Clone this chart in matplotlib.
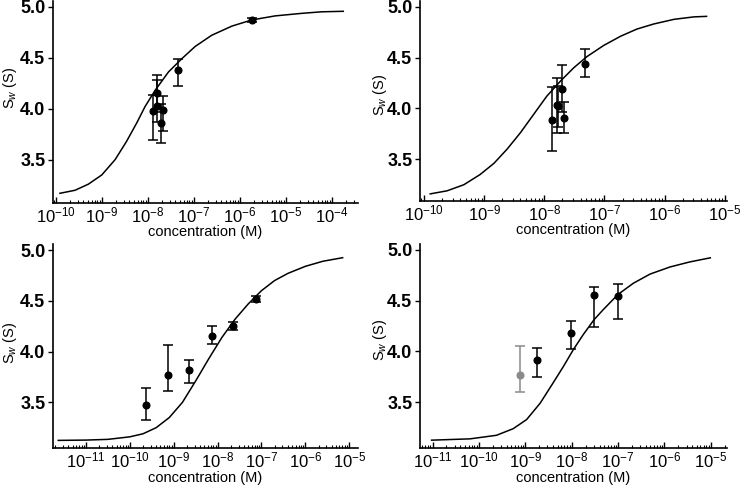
import numpy as np
import matplotlib
matplotlib.use("Agg")
import matplotlib.pyplot as plt
from matplotlib.ticker import FixedLocator, NullFormatter, LogFormatterSciNotation

plt.rcParams['font.family'] = ['Liberation Sans', 'DejaVu Sans']
plt.rcParams['mathtext.fontset'] = 'custom'
plt.rcParams['mathtext.rm'] = 'Liberation Sans'
plt.rcParams['mathtext.it'] = 'Liberation Sans:italic'
plt.rcParams['mathtext.bf'] = 'Liberation Sans:bold'

# ---------------- Panel 1 (top left) ----------------
conc1 = [1.29e-8, 1.62e-8, 1.62e-8, 1.90e-8, 2.14e-8, 4.65e-8, 1.82e-6]
sw1 = [3.98, 4.15, 4.03, 3.86, 3.99, 4.38, 4.87]
lo1 = [3.69, 3.97, 3.87, 3.66, 3.78, 4.22, 4.85]
hi1 = [4.13, 4.33, 4.28, 4.05, 4.12, 4.49, 4.89]
fit_logc1 = [-9.91, -9.58, -9.29, -9.0, -8.71, -8.46, -8.24, -8.06, -7.84, -7.55,
             -7.26, -6.97, -6.61, -6.17, -5.74, -5.23, -4.65, -4.22, -3.75]
fit_sw1 = [3.17, 3.20, 3.26, 3.35, 3.50, 3.68, 3.86, 4.02, 4.18, 4.36,
           4.49, 4.61, 4.72, 4.81, 4.87, 4.91, 4.935, 4.95, 4.955]

# ---------------- Panel 2 (top right) ----------------
conc2 = [1.35e-8, 1.63e-8, 1.66e-8, 1.93e-8, 2.15e-8, 4.8e-8]
sw2 = [3.89, 4.03, 4.02, 4.19, 3.91, 4.44]
lo2 = [3.58, 3.76, 3.82, 3.96, 3.76, 4.31]
hi2 = [4.21, 4.30, 4.22, 4.43, 4.06, 4.58]
fit_logc2 = [-9.90, -9.62, -9.34, -9.07, -8.84, -8.62, -8.40, -8.18, -7.96, -7.73,
             -7.51, -7.29, -7.01, -6.73, -6.46, -6.18, -5.84, -5.51, -5.30]
fit_sw2 = [3.16, 3.19, 3.25, 3.35, 3.46, 3.60, 3.76, 3.94, 4.12, 4.27,
           4.40, 4.51, 4.62, 4.71, 4.78, 4.83, 4.876, 4.90, 4.905]

# ---------------- Panel 3 (bottom left) ----------------
conc3 = [2.34e-10, 7.6e-10, 2.24e-9, 7.6e-9, 2.19e-8, 7.4e-8]
sw3 = [3.47, 3.77, 3.82, 4.15, 4.25, 4.52]
lo3 = [3.33, 3.61, 3.69, 4.07, 4.21, 4.49]
hi3 = [3.64, 4.06, 3.92, 4.25, 4.29, 4.55]
fit_logc3 = [-11.63, -11.0, -10.5, -10.0, -9.7, -9.4, -9.1, -8.8, -8.5, -8.2,
             -7.9, -7.6, -7.3, -7.0, -6.7, -6.4, -6.0, -5.6, -5.15]
fit_sw3 = [3.125, 3.128, 3.135, 3.16, 3.19, 3.25, 3.35, 3.50, 3.71, 3.93,
           4.14, 4.32, 4.47, 4.60, 4.70, 4.77, 4.84, 4.89, 4.925]

# ---------------- Panel 4 (bottom right) ----------------
conc4 = [7.6e-10, 1.8e-9, 9.8e-9, 3.0e-8, 1.0e-7]
sw4 = [3.77, 3.92, 4.18, 4.55, 4.54]
lo4 = [3.60, 3.75, 4.02, 4.24, 4.32]
hi4 = [4.05, 4.03, 4.30, 4.63, 4.66]
colors4 = ['#8a8a8a', 'black', 'black', 'black', 'black']
fit_logc4 = [-11.02, -10.19, -9.62, -9.26, -8.97, -8.68, -8.40, -8.18, -7.96, -7.75,
             -7.52, -7.32, -7.0, -6.67, -6.31, -5.88, -5.45, -5.01]
fit_sw4 = [3.127, 3.14, 3.175, 3.24, 3.33, 3.49, 3.69, 3.85, 4.02, 4.165,
           4.31, 4.41, 4.56, 4.67, 4.76, 4.83, 4.88, 4.92]

yticks = [3.5, 4.0, 4.5, 5.0]
xlabel = 'concentration (M)'
ylabel = r'S$_\mathit{w}$ (S)'

W, H = 740, 486
fig = plt.figure(figsize=(W / 100, H / 100), dpi=100)


def make_ax(left, right, top, bottom):
    return fig.add_axes([left / W, 1 - bottom / H, (right - left) / W, (bottom - top) / H])


panels = [
    dict(box=(53, 358, 1, 203), xlog=(-10.06, -3.43), ylim=(3.075, 5.056),
         conc=conc1, sw=sw1, lo=lo1, hi=hi1, colors=['black'] * len(conc1),
         flc=fit_logc1, fsw=fit_sw1, ylab=(-0.141, 0.57), xlab=-0.143),
    dict(box=(420, 727, 1, 201), xlog=(-10.07, -4.96), ylim=(3.09, 5.056),
         conc=conc2, sw=sw2, lo=lo2, hi=hi2, colors=['black'] * len(conc2),
         flc=fit_logc2, fsw=fit_sw2, ylab=(-0.13, 0.53), xlab=-0.145),
    dict(box=(53, 358, 244, 448), xlog=(-11.75, -4.8), ylim=(3.05, 5.06),
         conc=conc3, sw=sw3, lo=lo3, hi=hi3, colors=['black'] * len(conc3),
         flc=fit_logc3, fsw=fit_sw3, ylab=(-0.141, 0.515), xlab=-0.145),
    dict(box=(420, 727, 244, 448), xlog=(-11.27, -4.65), ylim=(3.05, 5.056),
         conc=conc4, sw=sw4, lo=lo4, hi=hi4, colors=colors4,
         flc=fit_logc4, fsw=fit_sw4, ylab=(-0.13, 0.53), xlab=-0.145),
]

for p in panels:
    ax = make_ax(*p['box'])
    ax.set_xscale('log')
    ax.plot(10.0 ** np.array(p['flc']), p['fsw'], color='black', lw=1.1, zorder=2)
    for c, s, l, h, col in zip(p['conc'], p['sw'], p['lo'], p['hi'], p['colors']):
        ax.errorbar([c], [s], yerr=[[s - l], [h - s]], fmt='o', color=col, ms=4.8,
                    ecolor=col, elinewidth=1.1, capsize=3.6, capthick=1.1, zorder=3)
    lo_e, hi_e = p['xlog']
    ax.set_xlim(10.0 ** lo_e, 10.0 ** hi_e)
    ax.set_ylim(*p['ylim'])
    ax.set_yticks(yticks)
    ax.set_yticklabels([f'{v:.1f}' for v in yticks])
    decades = np.arange(np.ceil(lo_e), np.floor(hi_e) + 1)
    majors = 10.0 ** decades
    minors = [m * 10.0 ** d for d in np.arange(np.floor(lo_e), np.floor(hi_e) + 1)
              for m in range(2, 10)
              if lo_e <= np.log10(m * 10.0 ** d) <= hi_e]
    ax.xaxis.set_major_locator(FixedLocator(majors))
    ax.xaxis.set_major_formatter(LogFormatterSciNotation())
    ax.xaxis.set_minor_locator(FixedLocator(minors))
    ax.xaxis.set_minor_formatter(NullFormatter())
    for sp in ['top', 'right']:
        ax.spines[sp].set_visible(False)
    for sp in ['left', 'bottom']:
        ax.spines[sp].set_linewidth(1.2)
    ax.tick_params(axis='x', which='major', direction='in', length=4, width=1.0,
                   labelsize=12, pad=2)
    ax.tick_params(axis='x', which='minor', direction='in', length=2.2, width=0.8)
    ax.tick_params(axis='y', which='major', direction='out', length=3.5, width=1.0,
                   labelsize=13, pad=2)
    for t in ax.get_yticklabels():
        t.set_fontweight('bold')
    ax.set_xlabel(xlabel, fontsize=10.5, va='center')
    ax.xaxis.set_label_coords(0.5, p['xlab'])
    ax.set_ylabel(ylabel, fontsize=10.5, va='center')
    ax.yaxis.set_label_coords(*p['ylab'])

fig.savefig('out.png', dpi=100)
